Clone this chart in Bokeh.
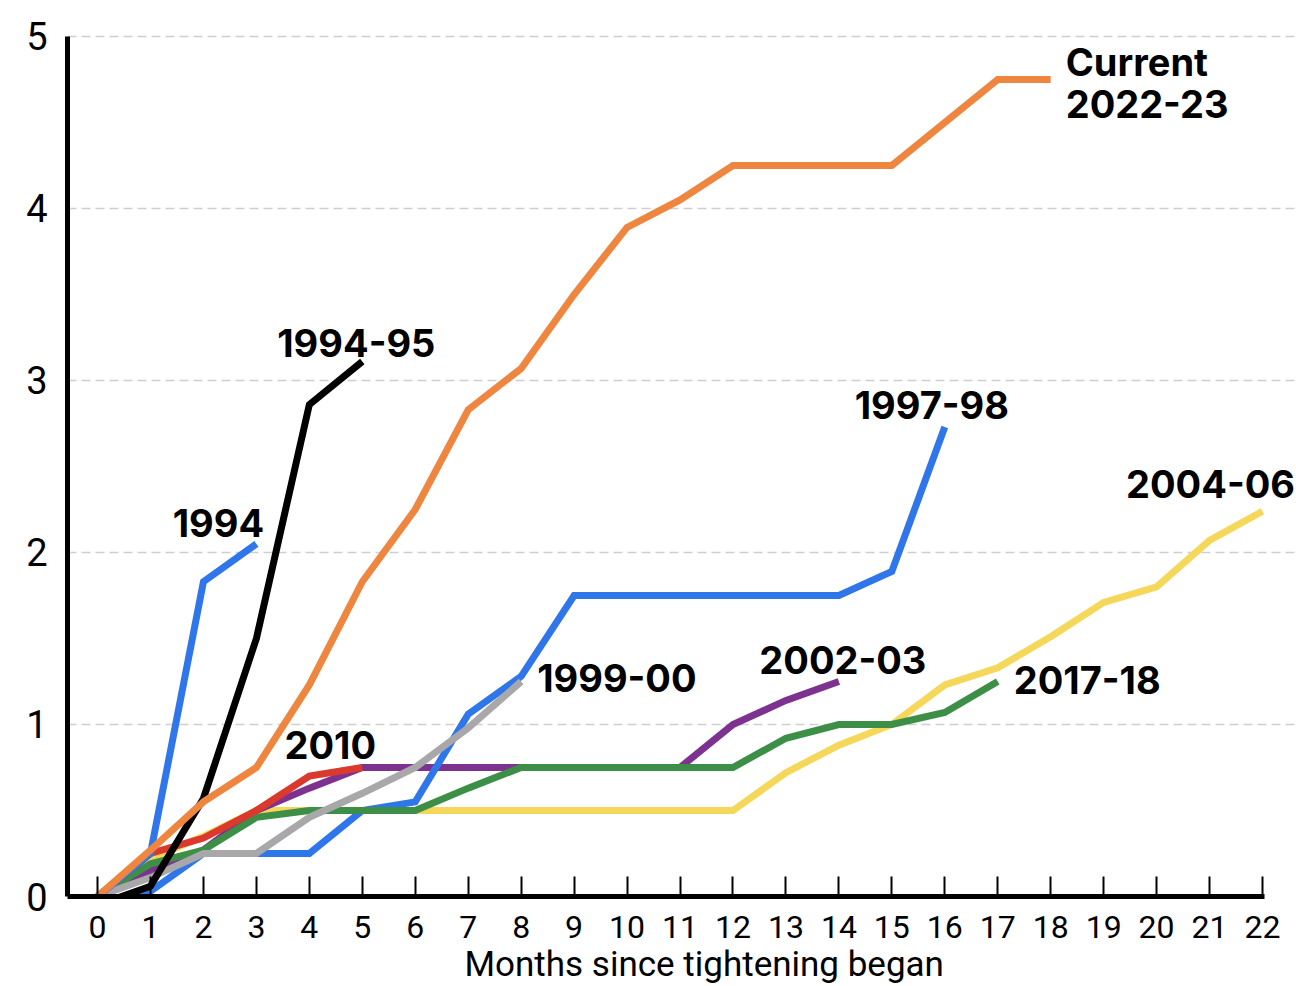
from bokeh.plotting import figure
from bokeh.models import Range1d, FixedTicker, Title, ColumnDataSource
from bokeh.core.properties import value
from bokeh.embed import file_html
from bokeh.resources import INLINE

# ---- data (percentage points change in policy rate, by months since tightening began)
months = list(range(0, 23))
month_labels = [str(m) for m in months]
y_ticks = [0, 1, 2, 3, 4, 5]
grid_ticks = [1, 2, 3, 4, 5]

s_1994 = [0, 0.25, 1.83, 2.05]
s_1994_95 = [-0.05, 0.06, 0.57, 1.5, 2.86, 3.11]
s_1997_98 = [-0.05, 0.03, 0.25, 0.25, 0.25, 0.5, 0.55, 1.06, 1.28, 1.75, 1.75,
             1.75, 1.75, 1.75, 1.75, 1.89, 2.73]
s_1999_00 = [0, 0.11, 0.25, 0.25, 0.46, 0.6, 0.75, 0.98, 1.25]
s_2002_03 = [0, 0.15, 0.27, 0.5, 0.63, 0.75, 0.75, 0.75, 0.75, 0.75, 0.75, 0.75,
             1.0, 1.14, 1.25]
s_2004_06 = [0, 0.22, 0.35, 0.5, 0.5, 0.5, 0.5, 0.5, 0.5, 0.5, 0.5, 0.5, 0.5,
             0.72, 0.88, 1.0, 1.23, 1.33, 1.51, 1.71, 1.8, 2.07, 2.24]
s_2010 = [0, 0.25, 0.34, 0.5, 0.7, 0.75]
s_2017_18 = [0, 0.19, 0.27, 0.46, 0.5, 0.5, 0.5, 0.63, 0.75, 0.75, 0.75, 0.75,
             0.75, 0.92, 1.0, 1.0, 1.07, 1.25]
s_current = [0, 0.27, 0.55, 0.75, 1.23, 1.83, 2.25, 2.83, 3.07, 3.5, 3.89, 4.05,
             4.25, 4.25, 4.25, 4.25, 4.5, 4.75, 4.75]

# drawing order (bottom to top): values, colour, label lines [(text, align, x_off, y_off)]
series = [
    (s_2004_06, "#F5D85A", [("2004-06", "center", -52, -27)]),
    (s_2002_03, "#7E3290", [("2002-03", "center", 4, -21)]),
    (s_1997_98, "#2F76EA", [("1997-98", "center", -13, -22)]),
    (s_2017_18, "#3D8F47", [("2017-18", "left", 16, -1)]),
    (s_2010, "#DA3A2D", [("2010", "center", -32, -22)]),
    (s_1999_00, "#A8A8AA", [("1999-00", "left", 16, -3)]),
    (s_1994_95, "#000000", [("1994-95", "center", -6, -19)]),
    (s_1994, "#2F76EA", [("1994", "center", -38, -21)]),
    (s_current, "#EE8640", [("Current", "left", 15, -17), ("2022-23", "left", 15, 25)]),
]

LABEL_FONT = "Inter"
AXIS_FONT = "Roboto"

p = figure(width=1296, height=986, output_backend="svg", toolbar_location=None,
           x_range=Range1d(-0.567, 22.642), y_range=Range1d(0, 5.0465),
           min_border_left=67, min_border_top=28, min_border_right=0,
           min_border_bottom=90, outline_line_color=None,
           background_fill_color="white", border_fill_color="white")

for vals, color, labels in series:
    xs = months[:len(vals)]
    p.line(xs, vals, line_color=color, line_width=7, line_join="miter", line_cap="butt")

for vals, color, labels in series:
    for txt, align, xo, yo in labels:
        src = ColumnDataSource(dict(x=[len(vals) - 1], y=[vals[-1]], t=[txt]))
        p.text(x="x", y="y", text="t", source=src, x_offset=xo, y_offset=yo,
               text_align=align, text_baseline="middle",
               text_font=value(LABEL_FONT), text_font_style="bold",
               text_font_size="38px", text_color="black")

# axes
xa = p.xaxis[0]
xa.ticker = FixedTicker(ticks=months)
xa.major_label_overrides = {m: l for m, l in zip(months, month_labels)}
xa.bounds = (-0.6, 22.03)
xa.axis_line_width = 5
xa.axis_line_color = "black"
xa.major_tick_in = 20
xa.major_tick_out = 0
xa.major_tick_line_width = 2
xa.major_tick_line_color = "black"
xa.minor_tick_line_color = None
xa.major_label_standoff = 19
xa.major_label_text_font = AXIS_FONT
xa.major_label_text_font_size = "32px"
xa.major_label_text_color = "black"

ya = p.yaxis[0]
ya.ticker = FixedTicker(ticks=y_ticks)
ya.bounds = (0, 5)
ya.axis_line_width = 5
ya.axis_line_color = "black"
ya.major_tick_in = 0
ya.major_tick_out = 0
ya.minor_tick_line_color = None
ya.major_label_standoff = 20
ya.major_label_text_font = AXIS_FONT
ya.major_label_text_font_size = "38px"
ya.major_label_text_color = "black"

p.xgrid.grid_line_color = None
p.ygrid.ticker = FixedTicker(ticks=grid_ticks)
p.ygrid.grid_line_color = "#CFCFCF"
p.ygrid.grid_line_width = 1.5
p.ygrid.grid_line_dash = "9 5"

p.add_layout(Title(text="Months since tightening began", align="left", offset=397,
                   text_font=AXIS_FONT, text_font_size="35px",
                   text_font_style="normal", text_color="black", standoff=2),
             "below")

open("out.html", "w").write(file_html(p, INLINE))
